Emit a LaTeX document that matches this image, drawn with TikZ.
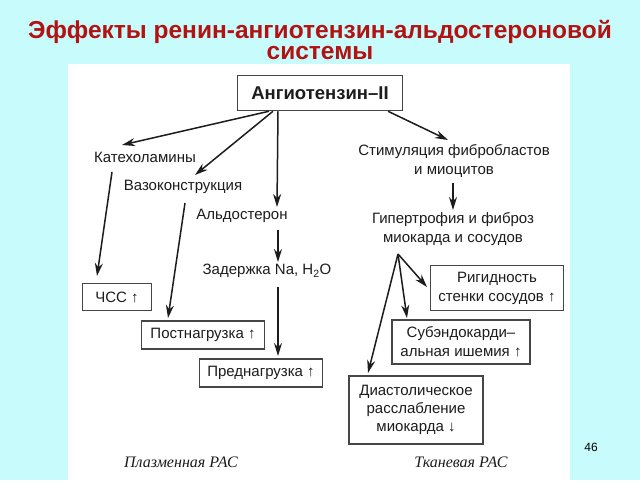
\documentclass[tikz,border=0pt]{standalone}
\usepackage{fontspec}
\setmainfont{Liberation Sans}
\newfontfamily\serifit{Liberation Serif}
\usetikzlibrary{arrows.meta,calc}
\definecolor{bgcyan}{RGB}{200,252,252}
\definecolor{titlered}{RGB}{178,18,18}
\definecolor{ink}{RGB}{28,28,28}
\definecolor{boxline}{RGB}{70,70,70}
\begin{document}
\begin{tikzpicture}[x=1pt,y=-1pt,
  lbl/.style={text=ink,font=\fontsize{15}{19}\selectfont,inner sep=1pt,align=center},
  boxed/.style={lbl,draw=boxline,line width=1.5pt,inner sep=0pt},
  arr/.style={draw=ink,line width=1.5pt,-{Stealth[length=13pt,width=8pt]}},
  rasl/.style={text=ink,font=\serifit\itshape\fontsize{16}{18}\selectfont}]
\fill[bgcyan] (0,0) rectangle (640,480);
\fill[white] (68,64) rectangle (570,480);
\useasboundingbox (0,0) rectangle (640,480);

\node[text=titlered,font=\bfseries\fontsize{24.5}{20.5}\selectfont,align=center,inner sep=0pt] (title) at (320,40)
  {Эффекты ренин-ангиотензин-альдостероновой\\[1pt]системы};

\node[boxed,font=\bfseries\fontsize{18.5}{20}\selectfont,minimum width=165pt,minimum height=35pt] (ang) at (320,93) {Ангиотензин–II};

\node[lbl] (kat) at (145,157) {Катехоламины};
\node[lbl] (vaso) at (183,187) {Вазоконструкция};
\node[lbl] (ald) at (242,216) {Альдостерон};
\node[lbl] (zad) at (267,271) {Задержка Na, H\textsubscript{2}O};

\node[boxed,minimum width=69pt,minimum height=27pt] (chss) at (117,297) {ЧСС ↑};
\node[boxed,minimum width=123pt,minimum height=28pt] (post) at (203,335) {Постнагрузка ↑};
\node[boxed,minimum width=123pt,minimum height=28pt] (pred) at (261,373) {Преднагрузка ↑};

\node[lbl] (stim) at (454,161) {Стимуляция фибробластов\\и миоцитов};
\node[lbl] (gip) at (453,229) {Гипертрофия и фиброз\\миокарда и сосудов};

\node[boxed,minimum width=133pt,minimum height=45pt] (rig) at (497,288) {Ригидность\\стенки сосудов ↑};
\node[boxed,minimum width=138pt,minimum height=44pt] (sub) at (461,342) {Субэндокарди–\\альная ишемия ↑};
\node[boxed,font=\fontsize{15}{18}\selectfont,minimum width=134pt,minimum height=68pt] (dia) at (416,410) {Диастолическое\\расслабление\\миокарда ↓};

\node[rasl] (plas) at (181,462) {Плазменная РАС};
\node[rasl] (tkan) at (461,462) {Тканевая РАС};
\node[font=\fontsize{12}{14}\selectfont] (num) at (591,447) {46};

\draw[arr] ($(ang.south)+(-51,0)$) -- ($(kat)+(-23,-12)$);
\draw[arr] ($(ang.south)+(-47,0)$) -- ($(vaso)+(12,-12)$);
\draw[arr] ($(ang.south)+(-42,0)$) -- ($(ald)+(35,-9)$);
\draw[arr] ($(ang.south)+(68,0)$) -- ($(stim)+(-6,-21)$);
\draw[arr] ($(stim)+(-1,22)$) -- ($(gip)+(0,-19)$);

\draw[arr] ($(kat)+(-33,15)$) -- ($(chss)+(-20,-21)$);
\draw[arr] ($(vaso)+(2,16)$) -- ($(post)+(-35,-17)$);
\draw[arr] ($(ald)+(36,14)$) -- ($(zad)+(11,-9)$);
\draw[arr] ($(zad)+(11,16)$) -- ($(pred)+(17,-17)$);

\draw[arr] ($(gip)+(-55,25)$) -- ($(rig)+(-70,-1)$);
\draw[arr] ($(gip)+(-55,25)$) -- ($(sub)+(-54,-24)$);
\draw[arr] ($(gip)+(-55,25)$) -- ($(dia)+(-48,-37)$);
\end{tikzpicture}
\end{document}
